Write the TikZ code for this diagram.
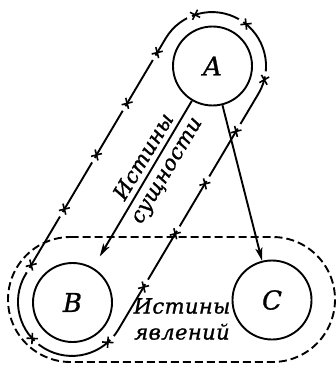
\documentclass[tikz,border=0pt]{standalone}
\usepackage{fontspec}
\setmainfont{DejaVu Serif}
\newfontfamily\lblfont[LetterSpace=2,FakeBold=1.2]{DejaVu Serif}
\newfontfamily\vertfont[FakeBold=1]{DejaVu Serif}
\usetikzlibrary{arrows.meta,decorations.markings}
\def\xcr{\draw[white,line width=4pt] (-8.5pt,0)--(-3.5pt,0); \draw[black,line width=1.6pt] (-4pt,-4pt)--(4pt,4pt) (-4pt,4pt)--(4pt,-4pt);}
\begin{document}
\begin{tikzpicture}[x=1pt,y=1pt,line width=1.9pt,
  vert/.style={circle,draw,minimum size=79pt,inner sep=0pt,font=\vertfont\fontsize{26}{26}\selectfont\itshape},
  arr/.style={-{Stealth[length=13pt,width=7pt,inset=3pt]}},
  lbl/.style={font=\lblfont\fontsize{21}{26}\selectfont\itshape,align=center,inner sep=0pt},
  crossloop/.style={postaction={decorate},decoration={markings,
    mark=at position 11pt with {\xcr},
    mark=at position 76pt with {\xcr},
    mark=at position 139pt with {\xcr},
    mark=at position 199pt with {\xcr},
    mark=at position 258pt with {\xcr},
    mark=at position 313pt with {\xcr},
    mark=at position 367pt with {\xcr},
    mark=at position 429pt with {\xcr},
    mark=at position 488pt with {\xcr},
    mark=at position 549pt with {\xcr},
    mark=at position 607pt with {\xcr},
    mark=at position 669pt with {\xcr},
    mark=at position 735pt with {\xcr},
    mark=at position 819pt with {\xcr}}},
  phenom/.style={dash pattern=on 8pt off 4pt}]
\useasboundingbox (0,0) rectangle (336,-369);
% loop around A and B (truths of essence)
\coordinate (p1) at (25.6,-274.5);
\coordinate (p2) at (165.6,-38.5);
\coordinate (p3) at (118.4,-329.5);
\draw[crossloop] (p1) -- (p2) arc[start angle=149.3,end angle=-30.7,radius=54pt]
  -- (p3) arc[start angle=-30.7,end angle=-210.7,radius=54pt] -- cycle;
% dashed loop around B and C (truths of phenomena)
\coordinate (q1) at (70.5,-237);
\coordinate (q2) at (272.5,-237);
\coordinate (q3) at (70.5,-362);
\draw[phenom] (q1) -- (q2) arc[start angle=90,end angle=-90,radius=62.5pt]
  -- (q3) arc[start angle=270,end angle=90,radius=62.5pt] -- cycle;
% nodes
\node[vert] (A) at (212.5,-66) {A};
\node[vert] (B) at (72.5,-302.5) {B};
\node[vert] (C) at (272,-300) {C};
% arrows
\draw[arr,shorten >=13pt] (A) -- (B);
\draw[arr] (A) -- (C);
% labels
\node[lbl,rotate=59.2] (ess) at (156,-164) {Истины\\сущности};
\node[lbl] (phe) at (182,-319) {Истины\\явлений};
\end{tikzpicture}
\end{document}
